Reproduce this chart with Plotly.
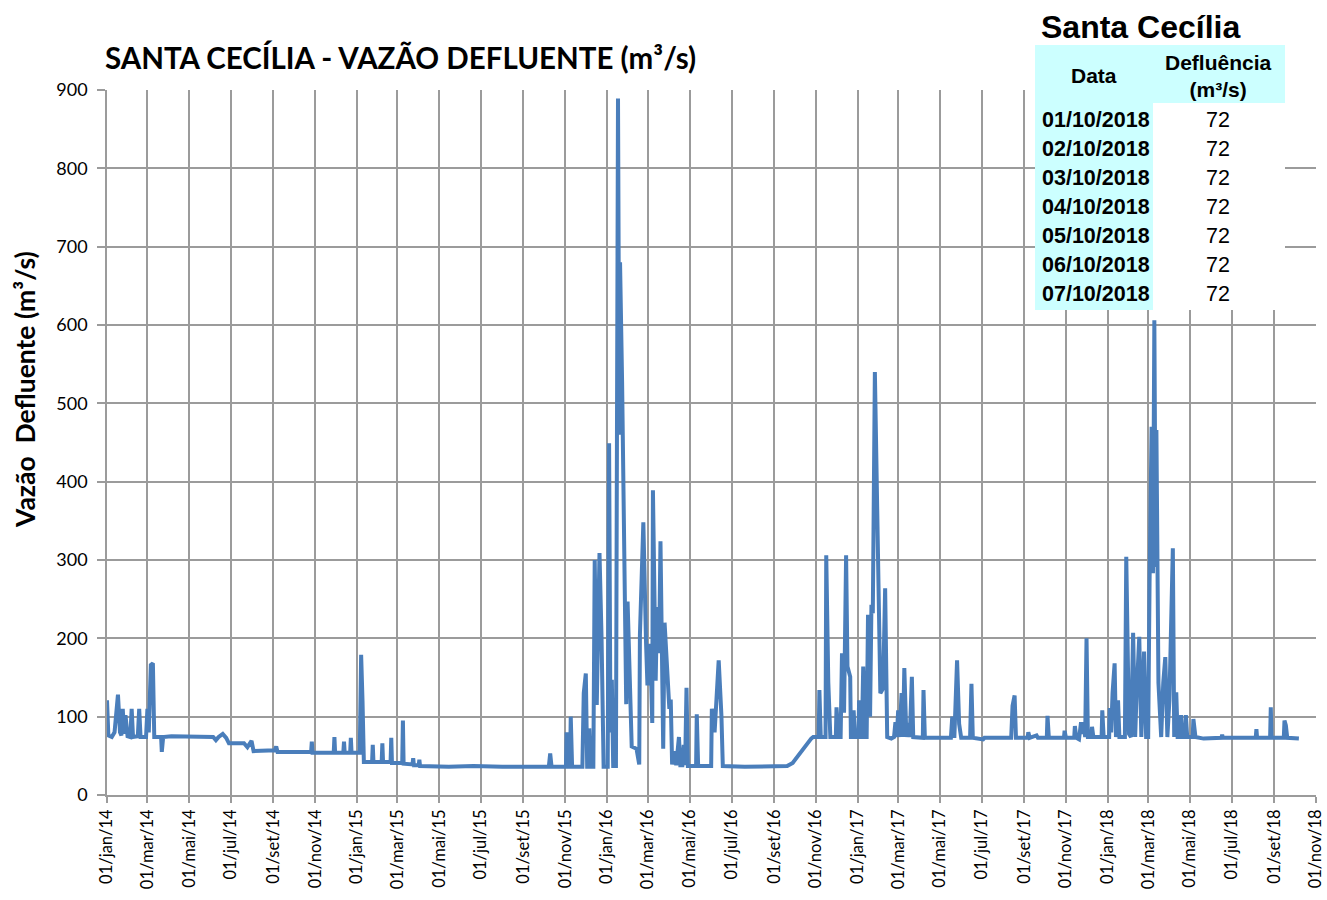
import plotly.graph_objects as go

# ---------------- data ----------------
dates_2014 = ["2014-01-01","2014-01-03","2014-01-08","2014-01-12","2014-01-17","2014-01-20","2014-01-22",
              "2014-01-24","2014-01-26","2014-01-28","2014-01-31","2014-02-04","2014-02-06","2014-02-08",
              "2014-02-15","2014-02-17","2014-02-19","2014-02-27","2014-03-01","2014-03-03","2014-03-06",
              "2014-03-09","2014-03-11","2014-03-21","2014-03-22","2014-03-24","2014-04-05","2014-05-20",
              "2014-06-05","2014-06-09","2014-06-13","2014-06-19","2014-06-24","2014-06-28","2014-07-20",
              "2014-07-25","2014-07-31","2014-08-03","2014-09-03","2014-09-05","2014-09-07","2014-10-26",
              "2014-10-27","2014-10-28","2014-11-28","2014-11-29","2014-11-30","2014-12-12","2014-12-13",
              "2014-12-14","2014-12-22","2014-12-23","2014-12-24"]
flow_2014 = [121, 76, 74, 80, 128, 80, 76,
             110, 78, 102, 75, 74, 110, 74,
             75, 110, 74, 74, 110, 80, 166,
             168, 74, 74, 55, 74, 75, 74,
             74, 70, 74, 78, 73, 66, 66,
             61, 69, 56, 57, 62, 55, 55,
             68, 54, 54, 74, 54, 54, 68,
             54, 54, 73, 54]

dates_2015 = ["2015-01-05","2015-01-07","2015-01-09","2015-01-11","2015-01-23","2015-01-24","2015-01-25",
              "2015-02-06","2015-02-07","2015-02-08","2015-02-19","2015-02-20","2015-02-21","2015-03-08",
              "2015-03-09","2015-03-10","2015-03-23","2015-03-24","2015-03-25","2015-04-01","2015-04-02",
              "2015-04-03","2015-05-15","2015-06-20","2015-08-01","2015-10-08","2015-10-10","2015-10-12",
              "2015-11-02","2015-11-03","2015-11-05","2015-11-08","2015-11-09","2015-11-11","2015-11-26",
              "2015-11-28","2015-12-01","2015-12-03","2015-12-05","2015-12-06","2015-12-08","2015-12-12",
              "2015-12-14","2015-12-17","2015-12-21","2015-12-24","2015-12-27"]
flow_2015 = [54, 179, 121, 42, 42, 64, 42,
             42, 66, 42, 42, 73, 41, 41,
             95, 40, 39, 47, 38, 38, 45,
             37, 36, 37, 36, 36, 53, 36,
             36, 80, 36, 36, 100, 36, 36,
             130, 155, 36, 36, 85, 36, 36,
             300, 115, 309, 200, 36]

dates_2016 = ["2016-01-02","2016-01-04","2016-01-06","2016-01-08","2016-01-10","2016-01-14","2016-01-17",
              "2016-01-19","2016-01-20","2016-01-23","2016-01-26","2016-01-29","2016-01-31","2016-02-03",
              "2016-02-06","2016-02-13","2016-02-17","2016-02-18","2016-02-23","2016-02-27","2016-02-29",
              "2016-03-04","2016-03-07","2016-03-08","2016-03-12","2016-03-14","2016-03-17","2016-03-19",
              "2016-03-21","2016-03-23","2016-03-25","2016-03-29","2016-04-01","2016-04-03","2016-04-05",
              "2016-04-09","2016-04-11","2016-04-15","2016-04-17","2016-04-20","2016-04-22","2016-04-24",
              "2016-04-26","2016-04-28","2016-05-10","2016-05-11","2016-05-13","2016-06-01","2016-06-02",
              "2016-06-06","2016-06-12","2016-06-16","2016-06-18","2016-07-20","2016-09-20","2016-09-28",
              "2016-10-03","2016-10-08","2016-10-12","2016-10-17","2016-10-20","2016-10-25","2016-10-28",
              "2016-11-05","2016-11-06","2016-11-08","2016-11-15","2016-11-16","2016-11-19","2016-11-22",
              "2016-11-30","2016-12-01","2016-12-04","2016-12-07","2016-12-09","2016-12-12","2016-12-15",
              "2016-12-17","2016-12-21","2016-12-22","2016-12-25","2016-12-26","2016-12-28"]
flow_2016 = [36, 449, 80, 147, 37, 37, 889,
             460, 680, 526, 264, 116, 247, 140,
             62, 59, 39, 205, 348, 193, 140,
             193, 92, 389, 146, 240, 181, 324,
             221, 59, 220, 151, 110, 122, 39,
             56, 38, 74, 38, 38, 64, 38,
             137, 37, 37, 103, 37, 37, 110,
             80, 172, 101, 37, 36, 37, 41,
             47, 52, 58, 64, 68, 72, 74,
             74, 134, 74, 74, 306, 144, 74,
             74, 112, 74, 74, 181, 105, 306,
             164, 151, 74, 74, 108, 74]

dates_2017 = ["2017-01-02","2017-01-03","2017-01-05","2017-01-07","2017-01-09","2017-01-12","2017-01-14",
              "2017-01-16","2017-01-19","2017-01-21","2017-01-23","2017-01-26","2017-01-29","2017-02-01",
              "2017-02-03","2017-02-07","2017-02-10","2017-02-13","2017-02-19","2017-02-23","2017-02-25",
              "2017-02-27","2017-03-01","2017-03-03","2017-03-06","2017-03-08","2017-03-10","2017-03-13",
              "2017-03-16","2017-03-18","2017-03-21","2017-03-23","2017-04-06","2017-04-07","2017-04-09",
              "2017-05-17","2017-05-19","2017-05-22","2017-05-26","2017-05-29","2017-06-01","2017-06-14",
              "2017-06-16","2017-06-18","2017-07-03","2017-07-05","2017-08-13","2017-08-15","2017-08-18",
              "2017-08-20","2017-09-06","2017-09-07","2017-09-09","2017-09-19","2017-09-21","2017-10-04",
              "2017-10-05","2017-10-07","2017-10-29","2017-10-30","2017-11-01","2017-11-13","2017-11-14",
              "2017-11-16","2017-11-20","2017-11-23","2017-11-25","2017-11-27","2017-11-29","2017-12-01",
              "2017-12-03","2017-12-08","2017-12-09","2017-12-11","2017-12-23","2017-12-24","2017-12-26"]
flow_2017 = [74, 121, 74, 74, 164, 74, 74,
             230, 100, 243, 232, 540, 402, 283,
             130, 136, 264, 74, 72, 74, 93,
             74, 108, 74, 130, 74, 162, 74,
             92, 74, 151, 74, 73, 134, 73,
             73, 100, 73, 172, 91, 73, 73,
             142, 73, 71, 73, 73, 114, 127,
             73, 73, 80, 73, 76, 73, 73,
             101, 73, 73, 82, 73, 73, 88,
             73, 71, 93, 78, 93, 74, 200,
             74, 74, 87, 74, 74, 108, 74]

dates_2018 = ["2018-01-03","2018-01-04","2018-01-06","2018-01-08","2018-01-11","2018-01-13","2018-01-16",
              "2018-01-18","2018-01-26","2018-01-28","2018-02-01","2018-02-04","2018-02-07","2018-02-10",
              "2018-02-12","2018-02-16","2018-02-19","2018-02-23","2018-02-26","2018-03-01","2018-03-03",
              "2018-03-06","2018-03-08","2018-03-10","2018-03-12","2018-03-13","2018-03-16","2018-03-20",
              "2018-03-23","2018-03-26","2018-03-29","2018-04-01","2018-04-06","2018-04-08","2018-04-11",
              "2018-04-13","2018-04-17","2018-04-18","2018-04-20","2018-04-24","2018-04-25","2018-04-27",
              "2018-05-05","2018-05-06","2018-05-09","2018-05-21","2018-06-16","2018-06-17","2018-06-18",
              "2018-08-05","2018-08-06","2018-08-07","2018-08-26","2018-08-27","2018-08-28","2018-09-15",
              "2018-09-16","2018-09-18","2018-09-20","2018-10-01","2018-10-07"]
flow_2018 = [74, 111, 80, 130, 168, 74, 121,
             74, 74, 304, 78, 74, 207, 74,
             127, 202, 74, 183, 74, 74, 270,
             470, 283, 606, 291, 466, 143, 74,
             143, 176, 74, 121, 315, 74, 131,
             74, 74, 102, 74, 74, 102, 74,
             74, 97, 74, 72, 73, 77, 73,
             73, 84, 73, 73, 112, 73, 73,
             95, 89, 73, 72, 72]

# x tick labels (every two months)
tick_months = ["01", "03", "05", "07", "09", "11"]
tick_month_names = ["jan", "mar", "mai", "jul", "set", "nov"]
tick_years = ["2014", "2015", "2016", "2017", "2018"]

# table
table_title = "Santa Cecília"
table_header = ["Data", "Defluência<br>(m³/s)"]
table_dates = ["01/10/2018", "02/10/2018", "03/10/2018", "04/10/2018",
               "05/10/2018", "06/10/2018", "07/10/2018"]
table_values = [72, 72, 72, 72, 72, 72, 72]

chart_title = "SANTA CECÍLIA - VAZÃO DEFLUENTE (m³/s)"
y_title = "Vazão  Defluente (m³/s)"

# ---------------- build ----------------
dates = dates_2014 + dates_2015 + dates_2016 + dates_2017 + dates_2018
flow = flow_2014 + flow_2015 + flow_2016 + flow_2017 + flow_2018

tickvals, ticktext = [], []
for y in tick_years:
    for m, name in zip(tick_months, tick_month_names):
        tickvals.append(f"{y}-{m}-01")
        ticktext.append(f"01/{name}/{y[2:]}")

W, H = 1327, 900
L, R, T, B = 107, 1316, 90, 795


def px(x):
    return (x - L) / (R - L)


def py(y):
    return (B - y) / (B - T)


GRID = "#9b9b9b"
LINE = "#4A7EBB"
FONT = "Lato, Arial, sans-serif"
TFONT = "Liberation Sans, Arial, sans-serif"

fig = go.Figure()
fig.add_trace(go.Scatter(x=dates, y=flow, mode="lines",
                         line=dict(color=LINE, width=4), hoverinfo="x+y",
                         showlegend=False))

fig.update_layout(
    width=W, height=H,
    margin=dict(l=L, r=W - R, t=T, b=H - B),
    paper_bgcolor="white", plot_bgcolor="white",
    font=dict(family=FONT, color="black"),
    showlegend=False,
)
fig.update_xaxes(
    type="date", range=["2014-01-01", "2018-11-01"],
    tickmode="array", tickvals=tickvals, ticktext=ticktext,
    tickangle=-90, tickfont=dict(size=16.5, family=FONT),
    showgrid=True, gridcolor=GRID, gridwidth=1.5,
    showline=True, linecolor=GRID, linewidth=1.5,
    ticks="outside", ticklen=6, tickcolor=GRID, tickwidth=1.5,
    zeroline=False, automargin=False,
)
fig.update_yaxes(
    range=[0, 900], dtick=100, tick0=0,
    tickfont=dict(size=18, family=FONT),
    showgrid=True, gridcolor=GRID, gridwidth=1.5,
    showline=True, linecolor=GRID, linewidth=1.5,
    ticks="outside", ticklen=8, tickcolor=GRID, tickwidth=1.5,
    ticklabelstandoff=6,
    zeroline=False, automargin=False,
)

shapes = []
CYAN = "#CCFFFF"
shapes.append(dict(type="rect", xref="paper", yref="paper", x0=px(1035), x1=px(1285),
                   y0=py(103), y1=py(45), fillcolor=CYAN, line=dict(width=0), layer="above"))
shapes.append(dict(type="rect", xref="paper", yref="paper", x0=px(1035), x1=px(1153),
                   y0=py(310), y1=py(103), fillcolor=CYAN, line=dict(width=0), layer="above"))
shapes.append(dict(type="rect", xref="paper", yref="paper", x0=px(1153), x1=px(1285),
                   y0=py(310), y1=py(103), fillcolor="white", line=dict(width=0), layer="above"))
fig.update_layout(shapes=shapes)

ann = []
ann.append(dict(text=f"<b>{chart_title}</b>", xref="paper", yref="paper",
                x=px(103), y=py(57), xanchor="left", yanchor="middle", showarrow=False,
                font=dict(size=29.5, family=FONT, color="black")))
ann.append(dict(text=f"<b>{y_title}</b>", xref="paper", yref="paper",
                x=px(25), y=py(390), xanchor="center", yanchor="middle", showarrow=False,
                textangle=-90, font=dict(size=26.5, family=FONT, color="black")))
ann.append(dict(text=f"<b>{table_title}</b>", xref="paper", yref="paper",
                x=px(1039), y=py(27), xanchor="left", yanchor="middle", showarrow=False,
                font=dict(size=32, family=TFONT, color="black")))
ann.append(dict(text=f"<b>{table_header[0]}</b>", xref="paper", yref="paper",
                x=px(1094), y=py(75), xanchor="center", yanchor="middle", showarrow=False,
                font=dict(size=21, family=TFONT, color="black")))
ann.append(dict(text=f"<b>{table_header[1]}</b>", xref="paper", yref="paper",
                x=px(1218), y=py(76), xanchor="center", yanchor="middle", showarrow=False,
                font=dict(size=21, family=TFONT, color="black")))
for i, (d, v) in enumerate(zip(table_dates, table_values)):
    yc = 120 + 29 * i
    ann.append(dict(text=f"<b>{d}</b>", xref="paper", yref="paper",
                    x=px(1096), y=py(yc), xanchor="center", yanchor="middle", showarrow=False,
                    font=dict(size=21.5, family=TFONT, color="black")))
    ann.append(dict(text=str(v), xref="paper", yref="paper",
                    x=px(1218), y=py(yc), xanchor="center", yanchor="middle", showarrow=False,
                    font=dict(size=21.5, family=TFONT, color="black")))
fig.update_layout(annotations=ann)

fig.write_html("out.html", config={"displayModeBar": False},
               post_script="document.body.style.margin='0px';document.body.style.padding='0px';")
